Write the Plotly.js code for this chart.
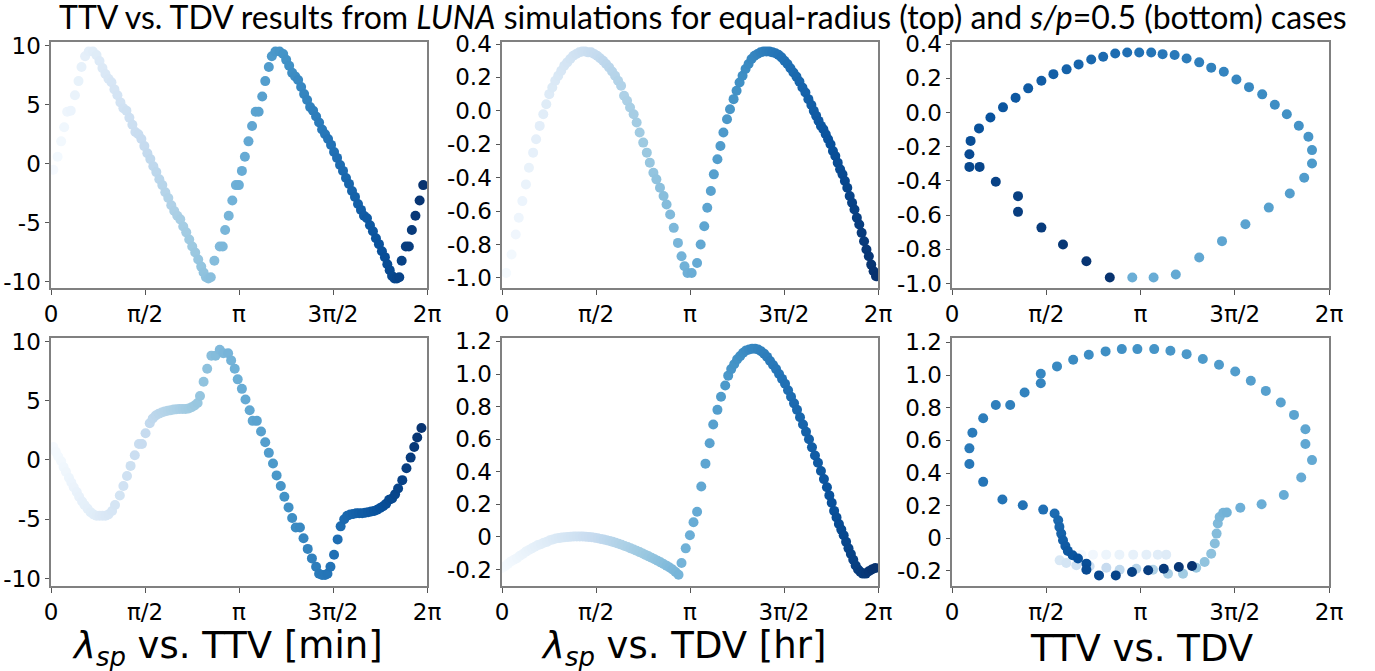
<!DOCTYPE html>
<html><head><meta charset="utf-8">
<script src="https://cdn.plot.ly/plotly-3.0.1.min.js"></script>
<style>html,body{margin:0;padding:0;background:#fff}#chart{width:1375px;height:671px}</style>
</head><body><div id="chart"></div>
<script>
// ---- Top row: equal-radius case ----
const lam1 = [0.04,0.11,0.17,0.22,0.27,0.33,0.40,0.46,0.51,0.57,0.63,0.70,0.76,
  0.81,0.86,0.91,0.96,1.01,1.06,1.11,1.16,1.21,1.26,1.31,1.36,1.41,1.46,1.51,1.56,1.61,1.66,1.71,1.76,1.81,1.86,1.91,1.96,2.01,2.06,2.11,2.16,2.21,2.26,2.31,2.36,2.41,2.46,2.51,2.55,2.59,2.63,2.67,
  2.73,2.82,2.87,2.91,2.97,3.03,3.09,3.14,3.19,3.24,3.30,3.36,3.42,3.47,3.53,3.58,3.64,3.69,3.75,3.82,3.88,
  3.93,3.98,4.03,4.08,4.13,4.18,4.23,4.28,4.33,4.38,4.43,4.48,4.53,4.58,4.63,4.68,4.73,4.78,4.83,4.88,4.93,4.98,5.03,5.08,5.13,5.18,5.23,5.28,5.33,5.38,5.43,5.48,5.53,5.58,5.62,5.66,5.70,5.74,5.78,5.82,
  5.86,5.93,5.98,6.03,6.09,6.16,6.22];
const ttv1 = [-0.5,0.6,1.9,3.1,4.4,4.5,5.8,7.0,8.2,9.1,9.5,9.5,9.2,
  8.7,8.1,7.6,7.2,6.9,6.3,5.8,5.2,4.7,4.5,3.9,3.3,2.7,2.5,2.1,1.5,0.9,0.4,-0.2,-0.7,-1.3,-1.8,-2.4,-2.9,-3.5,-4.0,-4.4,-4.7,-5.3,-5.8,-6.4,-7.0,-7.5,-8.1,-8.7,-9.2,-9.6,-9.7,-9.6,
  -8.2,-7.0,-7.0,-5.6,-4.4,-3.1,-1.8,-1.8,-0.6,0.6,1.9,3.2,4.4,4.4,5.7,7.0,8.2,9.1,9.5,9.5,9.3,
  8.8,8.3,7.7,7.4,7.1,6.5,5.9,5.4,4.8,4.5,4.0,3.5,2.9,2.5,2.1,1.6,1.0,0.5,-0.1,-0.6,-1.2,-1.7,-2.3,-2.8,-3.4,-3.9,-4.4,-4.6,-5.2,-5.7,-6.3,-6.8,-7.4,-7.9,-8.5,-9.0,-9.5,-9.7,-9.7,-9.6,
  -8.2,-7.0,-7.0,-5.6,-4.4,-3.1,-1.8];

const lam2 = [0.07,0.16,0.23,0.28,0.34,0.40,0.45,0.52,0.57,0.63,0.69,0.74,0.79,0.84,0.89,0.94,0.99,1.04,1.09,1.14,1.19,1.24,1.29,1.34,1.39,1.44,1.49,1.54,1.59,1.64,1.69,1.74,1.79,1.84,1.89,1.94,1.99,2.04,2.09,2.14,2.20,2.25,2.30,2.36,2.42,2.47,2.53,2.58,2.64,2.70,2.75,2.81,2.87,2.94,3.00,3.05,3.10,3.17,
  3.26,3.32,3.38,3.43,3.49,3.54,3.60,3.65,3.70,3.76,3.81,3.87,3.92,3.97,4.02,4.07,4.12,4.17,4.22,4.27,4.32,4.37,4.42,4.47,4.52,4.57,4.62,4.67,4.72,4.77,4.82,4.87,4.92,4.97,5.02,5.07,5.12,5.17,5.21,5.25,5.29,5.33,5.37,5.41,5.45,5.49,5.53,5.57,5.61,5.65,5.69,5.73,5.77,5.81,5.85,5.89,5.93,5.97,6.01,6.05,6.09,6.13,6.17,6.21,6.25];
const tdv2 = [-0.97,-0.86,-0.74,-0.64,-0.54,-0.44,-0.34,-0.25,-0.17,-0.09,-0.02,0.04,0.10,0.14,0.18,0.21,0.24,0.27,0.29,0.31,0.33,0.34,0.35,0.355,0.355,0.35,0.35,0.34,0.33,0.315,0.30,0.28,0.26,0.235,0.21,0.18,0.15,0.09,0.06,0.02,-0.02,-0.07,-0.13,-0.19,-0.25,-0.31,-0.37,-0.41,-0.46,-0.51,-0.56,-0.62,-0.70,-0.79,-0.87,-0.93,-0.97,-0.97,
  -0.91,-0.80,-0.69,-0.58,-0.48,-0.38,-0.29,-0.21,-0.13,-0.05,0.01,0.07,0.12,0.17,0.21,0.25,0.28,0.31,0.33,0.34,0.35,0.355,0.355,0.355,0.35,0.345,0.335,0.32,0.30,0.28,0.255,0.23,0.205,0.175,0.14,0.11,0.07,0.035,0.0,-0.03,-0.06,-0.09,-0.11,-0.14,-0.17,-0.20,-0.24,-0.27,-0.31,-0.35,-0.38,-0.42,-0.46,-0.51,-0.55,-0.59,-0.64,-0.68,-0.73,-0.78,-0.83,-0.87,-0.92,-0.96,-0.99];

// TTV vs TDV (top) as read on the drawn axes
const ttv3 = [3.005,3.36,3.73,4.12,4.50,4.89,5.28,5.63,5.87,6.00,6.00,5.94,5.78,5.58,5.38,5.17,4.95,4.74,4.53,4.32,4.12,3.91,3.71,3.51,3.32,3.12,2.92,2.72,2.52,2.32,2.11,1.91,1.69,1.49,1.27,1.06,0.85,0.64,0.45,0.31,0.29,0.29,0.46,0.73,1.10,1.10,1.49,1.85,2.24,2.63];
const tdv3 = [-0.965,-0.965,-0.947,-0.848,-0.752,-0.653,-0.556,-0.474,-0.382,-0.298,-0.22,-0.142,-0.078,-0.01,0.045,0.106,0.148,0.193,0.238,0.262,0.293,0.316,0.336,0.341,0.351,0.351,0.351,0.345,0.326,0.31,0.281,0.252,0.224,0.185,0.141,0.086,0.03,-0.029,-0.093,-0.166,-0.244,-0.318,-0.318,-0.405,-0.489,-0.581,-0.673,-0.772,-0.87,-0.965];
const lam3 = [3.14,3.20,3.27,3.33,3.39,3.45,3.52,3.58,3.64,3.71,3.77,3.83,3.89,3.96,4.02,4.08,4.15,4.21,4.27,4.33,4.40,4.46,4.52,4.59,4.65,4.71,4.78,4.84,4.90,4.96,5.03,5.09,5.15,5.22,5.28,5.34,5.41,5.47,5.53,5.59,5.66,5.72,5.78,5.85,5.91,5.97,6.03,6.10,6.16,6.22];

// ---- Bottom row: s/p = 0.5 case ----
const lam4 = [0.04,0.08,0.12,0.17,0.21,0.25,0.30,0.34,0.38,0.43,0.47,0.52,0.56,0.61,0.66,0.71,0.76,0.81,0.86,0.91,0.96,1.02,1.07,1.15,1.21,1.27,1.33,1.40,1.47,1.52,1.58,1.65,1.70,1.75,1.80,1.85,1.90,1.95,2.00,2.05,2.10,2.15,2.20,2.25,2.30,2.35,2.40,2.45,2.49,2.55,2.61,2.68,2.75,2.82,2.88,2.96,3.01,3.07,3.12,3.19,3.25,3.32,3.37,3.44,3.51,3.58,3.64,3.71,3.77,3.84,3.90,3.97,4.03,4.09,4.16,4.22,4.29,4.36,4.43,4.48,4.53,4.58,4.62,4.67,4.73,4.79,4.84,4.90,4.95,5.00,5.05,5.10,5.15,5.20,5.25,5.30,5.35,5.40,5.45,5.50,5.55,5.60,5.65,5.70,5.75,5.80,5.87,5.94,6.01,6.07,6.12,6.19];
const ttv4 = [1.1,0.7,0.3,-0.1,-0.6,-1.0,-1.5,-1.9,-2.3,-2.7,-3.1,-3.5,-3.8,-4.1,-4.4,-4.6,-4.7,-4.7,-4.7,-4.7,-4.6,-4.3,-3.8,-3.0,-2.2,-1.35,-0.5,0.4,1.35,1.35,2.25,3.1,3.5,3.75,3.9,4.0,4.1,4.15,4.2,4.25,4.28,4.3,4.3,4.3,4.35,4.45,4.6,4.8,5.4,6.6,7.7,8.8,8.8,9.3,9.0,9.0,8.4,7.7,6.8,6.0,5.1,4.2,3.3,3.3,2.4,1.5,0.6,-0.3,-1.3,-2.2,-3.1,-4.0,-4.9,-5.7,-5.7,-6.6,-7.5,-8.3,-9.0,-9.6,-9.7,-9.7,-9.6,-9.0,-8.0,-6.7,-5.6,-5.0,-4.7,-4.6,-4.55,-4.5,-4.5,-4.5,-4.45,-4.4,-4.35,-4.3,-4.2,-4.05,-3.9,-3.7,-3.35,-3.25,-2.9,-2.4,-1.7,-0.7,0.2,1.1,1.9,2.7];

const lam5 = [0.00,0.05,0.10,0.15,0.20,0.25,0.30,0.35,0.40,0.45,0.50,0.55,0.60,0.65,0.70,0.75,0.80,0.85,0.90,0.95,1.00,1.05,1.10,1.15,1.20,1.25,1.30,1.35,1.40,1.45,1.50,1.55,1.60,1.65,1.70,1.75,1.80,1.85,1.90,1.95,2.00,2.05,2.10,2.15,2.20,2.25,2.30,2.35,2.40,2.45,2.50,2.55,2.60,2.65,2.70,2.75,2.80,2.85,2.90,2.95,
  3.00,3.07,3.14,3.20,3.26,3.33,3.40,3.47,3.53,3.60,3.66,3.73,3.78,3.83,3.88,3.93,3.98,4.03,4.08,4.13,4.18,4.23,4.28,4.33,4.38,4.43,4.48,4.53,4.58,4.63,4.68,4.73,4.78,4.83,4.88,4.93,4.98,5.03,5.08,5.13,5.18,5.23,5.28,5.33,5.38,5.43,5.47,5.51,5.55,5.59,5.63,5.67,5.71,5.75,5.79,5.83,5.87,5.91,5.95,5.99,6.03,6.08,6.13,6.18,6.24];
const tdv5 = [-0.19,-0.18,-0.165,-0.15,-0.14,-0.13,-0.115,-0.105,-0.09,-0.08,-0.07,-0.06,-0.05,-0.045,-0.035,-0.03,-0.02,-0.015,-0.01,-0.007,-0.004,-0.002,0.0,0.002,0.003,0.003,0.003,0.003,0.002,0.0,-0.002,-0.005,-0.008,-0.012,-0.016,-0.02,-0.025,-0.03,-0.036,-0.042,-0.048,-0.055,-0.062,-0.07,-0.077,-0.085,-0.093,-0.101,-0.11,-0.119,-0.128,-0.137,-0.146,-0.156,-0.166,-0.176,-0.187,-0.2,-0.215,-0.232,
  -0.16,-0.07,0.01,0.09,0.155,0.31,0.45,0.575,0.69,0.78,0.86,0.93,0.99,1.03,1.06,1.09,1.11,1.13,1.145,1.15,1.155,1.155,1.15,1.14,1.125,1.105,1.08,1.055,1.03,1.0,0.97,0.94,0.9,0.86,0.82,0.78,0.735,0.69,0.645,0.6,0.55,0.5,0.455,0.405,0.355,0.305,0.255,0.21,0.16,0.12,0.08,0.045,0.01,-0.03,-0.07,-0.105,-0.14,-0.175,-0.2,-0.215,-0.225,-0.225,-0.21,-0.2,-0.19];

// TTV vs TDV (bottom) as read on the drawn axes
const ttv6 = [2.155,2.35,2.57,2.79,3.02,3.24,3.43,3.57,
  1.794,1.905,2.072,2.294,2.572,2.794,3.072,3.35,3.60,3.85,4.07,
  4.21,4.32,4.38,4.41,4.43,4.46,4.52,4.58,
  4.805,5.16,5.53,5.82,6.00,5.89,5.89,5.70,5.48,5.23,4.98,4.72,4.45,4.18,3.91,3.64,3.37,3.09,2.83,2.56,2.28,2.02,1.75,1.48,1.48,1.21,0.97,0.73,0.52,0.34,0.29,0.29,0.52,0.84,1.18,1.52,
  1.71,1.77,1.79,1.82,1.85,1.89,1.93,2.01,2.10,2.24,2.24,2.45,2.73,3.00,3.27,3.53,3.78,4.00];
const tdv6 = [-0.10,-0.10,-0.10,-0.10,-0.10,-0.10,-0.10,-0.10,
  -0.135,-0.151,-0.165,-0.171,-0.180,-0.192,-0.186,-0.192,-0.217,-0.217,-0.180,
  -0.145,-0.094,-0.032,0.029,0.091,0.131,0.156,0.158,
  0.187,0.209,0.265,0.373,0.479,0.578,0.668,0.756,0.832,0.903,0.965,1.022,1.063,1.098,1.128,1.149,1.159,1.159,1.159,1.145,1.124,1.094,1.053,1.008,0.950,0.893,0.817,0.817,0.735,0.647,0.551,0.455,0.346,0.238,0.203,0.176,
  0.152,0.111,0.070,0.029,-0.012,-0.047,-0.077,-0.104,-0.124,-0.155,-0.192,-0.227,-0.227,-0.206,-0.196,-0.186,-0.176,-0.169];
const lam6 = [0.10,0.20,0.30,0.40,0.50,0.60,0.70,0.80,
  0.95,1.10,1.25,1.40,1.55,1.70,1.85,2.00,2.15,2.30,2.45,
  2.55,2.62,2.69,2.76,2.83,2.90,2.97,3.04,
  3.10,3.15,3.20,3.24,3.29,3.34,3.38,3.43,3.48,3.53,3.57,3.62,3.67,3.71,3.76,3.81,3.85,3.90,3.95,4.00,4.04,4.09,4.14,4.18,4.23,4.28,4.32,4.37,4.42,4.47,4.51,4.56,4.61,4.65,4.70,4.75,
  4.85,4.93,5.01,5.09,5.17,5.25,5.33,5.41,5.49,5.57,5.65,5.73,5.81,5.89,5.97,6.05,6.13,6.21];

const xTickLabels = ['0','π/2','π','3π/2','2π'];
const yTicks1 = [-10,-5,0,5,10];
const yLabels1 = ['-10','-5','0','5','10'];
const yTicks2 = [-1.0,-0.8,-0.6,-0.4,-0.2,0.0,0.2,0.4];
const yLabels2 = ['-1.0','-0.8','-0.6','-0.4','-0.2','0.0','0.2','0.4'];
const yTicks5 = [-0.2,0,0.2,0.4,0.6,0.8,1.0,1.2];
const yLabels5 = ['-0.2','0','0.2','0.4','0.6','0.8','1.0','1.2'];

const PI = Math.PI;
const BLUES = [[0,'#f7fbff'],[0.125,'#deebf7'],[0.25,'#c6dbef'],[0.375,'#9ecae1'],[0.5,'#6baed6'],[0.625,'#4292c6'],[0.75,'#2171b5'],[0.875,'#08519c'],[1,'#08306b']];

function tr(x, y, c, n){
  return {type:'scatter', mode:'markers', x:x, y:y, xaxis:'x'+(n>1?n:''), yaxis:'y'+(n>1?n:''),
    marker:{size:10, color:c, colorscale:BLUES, cmin:0, cmax:2*PI, line:{width:0}},
    showlegend:false, hoverinfo:'skip'};
}
const data = [
  tr(lam1, ttv1, lam1, 1),
  tr(lam2, tdv2, lam2, 2),
  tr(ttv3, tdv3, lam3, 3),
  tr(lam4, ttv4, lam4, 4),
  tr(lam5, tdv5, lam5, 5),
  tr(ttv6, tdv6, lam6, 6)
];

const W = 1375, H = 671;
const cols = [[51,427],[502,878],[952,1329]];
const rows = [[42,288],[338,586]];
const tickFont = {family:'DejaVu Sans', size:23, color:'#000'};
function xa(col,row,anchor){
  return {domain:[cols[col][0]/W, cols[col][1]/W], anchor:anchor, range:[0,2*PI],
    tickvals:[0,PI/2,PI,3*PI/2,2*PI], ticktext:xTickLabels, tickfont:tickFont,
    showline:true, mirror:true, linecolor:'#808080', linewidth:1.6, ticks:'outside', ticklen:5, tickcolor:'#555', tickwidth:1,
    showgrid:false, zeroline:false, automargin:false, fixedrange:true};
}
function ya(row,anchor,range,tv,tt){
  return {domain:[1-rows[row][1]/H, 1-rows[row][0]/H], anchor:anchor, range:range,
    tickvals:tv, ticktext:tt, tickfont:tickFont,
    showline:true, mirror:true, linecolor:'#808080', linewidth:1.6, ticks:'outside', ticklen:4, tickcolor:'#555', tickwidth:1,
    showgrid:false, zeroline:false, automargin:false, fixedrange:true};
}
const layout = {
  width:W, height:H, margin:{l:0,r:0,t:0,b:0}, paper_bgcolor:'#fff', plot_bgcolor:'#fff',
  xaxis:xa(0,0,'y'), yaxis:ya(0,'x',[-10.51,10.31],yTicks1,yLabels1),
  xaxis2:xa(1,0,'y2'), yaxis2:ya(0,'x2',[-1.06,0.412],yTicks2,yLabels2),
  xaxis3:xa(2,0,'y3'), yaxis3:ya(0,'x3',[-1.026,0.412],yTicks2,yLabels2),
  xaxis4:xa(0,1,'y4'), yaxis4:ya(1,'x4',[-10.63,10.29],yTicks1,yLabels1),
  xaxis5:xa(1,1,'y5'), yaxis5:ya(1,'x5',[-0.301,1.221],yTicks5,yLabels5),
  xaxis6:xa(2,1,'y6'), yaxis6:ya(1,'x6',[-0.292,1.227],yTicks5,yLabels5),
  annotations:[
    {text:'TTV vs. TDV results from <i>LUNA</i> simulations for equal-radius (top) and <i>s/p</i>=0.5 (bottom) cases',
     xref:'paper', yref:'paper', x:703/W, y:1-17/H, xanchor:'center', yanchor:'middle', showarrow:false,
     font:{family:'Lato', size:32, color:'#000'}},
    {text:'<i>λ</i><sub><i>sp</i></sub> vs. TTV [min]', xref:'paper', yref:'paper', x:227/W, y:1-648/H,
     xanchor:'center', yanchor:'middle', showarrow:false, font:{family:'DejaVu Sans', size:37, color:'#000'}},
    {text:'<i>λ</i><sub><i>sp</i></sub> vs. TDV [hr]', xref:'paper', yref:'paper', x:683/W, y:1-648/H,
     xanchor:'center', yanchor:'middle', showarrow:false, font:{family:'DejaVu Sans', size:37, color:'#000'}},
    {text:'TTV vs. TDV', xref:'paper', yref:'paper', x:1141/W, y:1-648/H,
     xanchor:'center', yanchor:'middle', showarrow:false, font:{family:'DejaVu Sans', size:37, color:'#000'}}
  ]
};
Plotly.newPlot('chart', data, layout, {displayModeBar:false, staticPlot:true});
</script>
</body></html>
